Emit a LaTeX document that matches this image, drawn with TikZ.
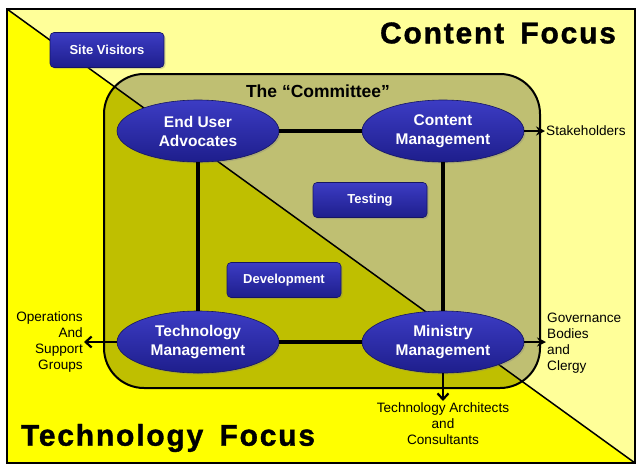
\documentclass[tikz,border=0pt]{standalone}
\usepackage{fontspec}
\setmainfont{Liberation Sans}
\newfontfamily\focusfont[LetterSpace=6,FakeBold=1.2,WordSpace=1.6]{Liberation Sans Bold}
\usetikzlibrary{arrows.meta,positioning,shapes.geometric,shadows}

\definecolor{paleyel}{HTML}{FFFF99}
\definecolor{brightyel}{HTML}{FFFF00}
\definecolor{navytop}{HTML}{3C3CC4}
\definecolor{navybot}{HTML}{1E1E8C}

\begin{document}
\begin{tikzpicture}[x=1pt,y=-1pt,
  roleell/.style={ellipse, minimum width=162pt, minimum height=62pt, inner sep=0pt,
    top color=navytop, bottom color=navybot, draw=navybot!70!black, line width=0.6pt,
    text=white, align=center, font=\fontsize{15.5}{19}\selectfont\bfseries,
    drop shadow={opacity=0.3, shadow xshift=1.5pt, shadow yshift=-1.5pt}},
  taskbox/.style={rectangle, rounded corners=4pt, minimum width=114pt, minimum height=35pt,
    inner sep=0pt, top color=navytop, bottom color=navybot, draw=navybot!70!black,
    line width=0.6pt, text=white, font=\fontsize{13}{15}\selectfont\bfseries,
    drop shadow={opacity=0.3, shadow xshift=1.5pt, shadow yshift=-1.5pt}},
  link/.style={line width=4pt},
  outarr/.style={line width=2.2pt, -{Stealth[length=9pt,width=9pt]}},
  backarr/.style={line width=2.2pt, -{Straight Barb[length=6pt,width=11pt]}},
  side/.style={font=\fontsize{13.6}{16}\selectfont, inner sep=1pt},
  focus/.style={font=\fontsize{30}{32}\focusfont, inner sep=0pt}]
  \useasboundingbox (0,0) rectangle (640,475);
  % Background halves
  \fill[paleyel] (7,9) rectangle (635,463);
  \fill[brightyel] (7,9) -- (635,463) -- (7,463) -- cycle;
  \draw[line width=1.5pt] (7,9) -- (635,463);
  % The committee
  \fill[black, opacity=0.25, rounded corners=40pt] (104,74) rectangle (540,388);
  \draw[line width=2pt, rounded corners=40pt] (104,74) rectangle (540,388);
  \node[font=\fontsize{17.5}{20}\selectfont\bfseries] (ttl) at (318,91) {The “Committee”};
  % Frame
  \draw[line width=2.5pt] (7,9) rectangle (635,463);
  % Focus labels
  \node[focus] (cfocus) at (498,33) {Content Focus};
  \node[focus] (tfocus) at (168,438) {Technology Focus};
  % Roles
  \node[roleell] (eua) at (198,131) {End User\\Advocates};
  \node[roleell] (cm) at (443,131) {Content\\Management};
  \node[roleell] (tm) at (198,342) {Technology\\Management};
  \node[roleell] (mm) at (443,342) {Ministry\\Management};
  % Links between roles
  \draw[link] (eua) -- (cm);
  \draw[link] (cm) -- (mm);
  \draw[link] (mm) -- (tm);
  \draw[link] (tm) -- (eua);
  % Tasks
  \node[taskbox] (visit) at (107,50) {Site Visitors};
  \node[taskbox] (test) at (370,200) {Testing};
  \node[taskbox] (dev) at (284,280) {Development};
  % Outside parties
  \node[side, anchor=west] (stake) at (545,131) {Stakeholders};
  \node[side, anchor=west, align=left] (gov) at (546,343) {Governance\\Bodies\\and\\Clergy};
  \node[side, anchor=north, align=center] (arch) at (443,401) {Technology Architects\\and\\Consultants};
  \node[side, anchor=east, align=right] (ops) at (84,342) {Operations\\And\\Support\\Groups};
  \draw[outarr] (cm.east) -- (stake.west);
  \draw[outarr] (mm.east) -- (gov.west |- mm.east);
  \draw[backarr] (mm.south) -- (arch.north);
  \draw[backarr] (tm.west) -- (ops.east);
\end{tikzpicture}
\end{document}
